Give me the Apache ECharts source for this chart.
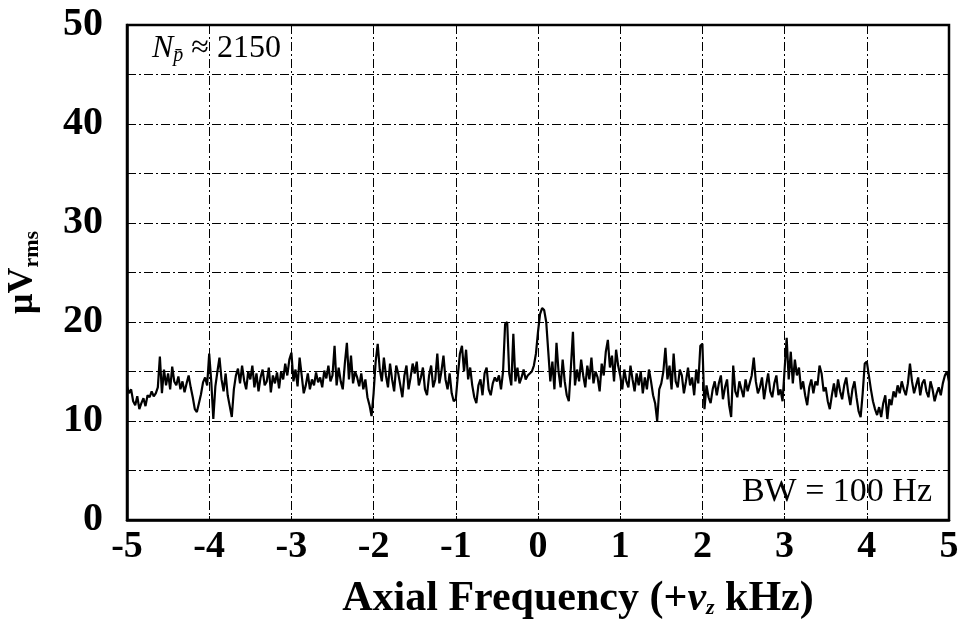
<!DOCTYPE html>
<html>
<head>
<meta charset="utf-8">
<script src="https://cdn.jsdelivr.net/npm/echarts@6/dist/echarts.min.js"></script>
<style>html,body{margin:0;padding:0;background:#fff}#c{width:962px;height:627px}</style>
</head>
<body>
<div id="c"></div>
<script>
// Axial frequency (kHz), sampled from -5 to 5 every 0.025 kHz
const freqStart = -5;
const freqStep = 0.025;
// Signal (μV rms), one value per sample
const signal = [
  // -5.0 .. -4.525
  13.5, 12.8, 13.2, 12.0, 11.6, 12.5, 11.2, 11.8, 12.3, 11.5, 12.6, 12.4, 13.0, 12.5, 12.8, 13.4, 16.5, 12.8, 15.2, 13.6,
  // -4.5 .. -4.025
  14.8, 13.2, 15.5, 14.0, 13.6, 14.5, 13.2, 14.0, 12.9, 13.8, 14.6, 13.4, 12.4, 11.2, 10.9, 11.8, 12.7, 13.9, 14.4, 13.6,
  // -4.0 .. -3.525
  16.8, 14.0, 10.2, 13.5, 15.0, 16.4, 14.2, 13.0, 14.8, 12.6, 11.5, 10.4, 13.2, 14.6, 15.3, 13.8, 15.6, 14.1, 13.2, 15.0,
  // -3.5 .. -3.025
  14.2, 15.6, 13.4, 14.8, 13.0, 14.4, 15.2, 13.6, 14.0, 15.4, 12.9, 14.6, 13.8, 14.9, 13.3, 15.0, 14.2, 15.8, 14.6, 16.2,
  // -3.0 .. -2.525
  16.9, 14.0, 15.2, 13.5, 16.4, 14.6, 12.8, 13.6, 14.8, 13.2, 14.2, 13.6, 14.9, 13.9, 14.4, 13.4, 15.1, 14.3, 15.6, 14.0,
  // -2.5 .. -2.025
  14.6, 17.6, 13.6, 15.4, 14.0, 13.2, 15.8, 17.9, 14.2, 16.6, 13.8, 15.0, 14.4, 13.5, 14.8, 13.2, 14.2, 12.4, 11.6, 10.5,
  // -2.0 .. -1.525
  12.8, 16.0, 17.8, 15.2, 14.0, 16.4, 14.6, 13.4, 15.8, 14.2, 13.0, 15.6, 14.8, 13.6, 12.4, 14.6, 15.6, 13.2, 14.4, 15.8,
  // -1.5 .. -1.025
  14.8, 16.0, 13.6, 14.4, 15.4, 13.2, 12.6, 14.6, 15.6, 13.4, 14.2, 16.8, 13.8, 15.0, 16.6, 14.2, 13.2, 14.8, 12.8, 12.0,
  // -1.0 .. -0.525
  12.2, 14.6, 16.8, 17.6, 15.0, 17.2, 14.2, 15.4, 13.6, 12.4, 11.8, 13.6, 14.2, 12.6, 14.8, 15.4, 13.2, 12.6, 13.8, 14.4,
  // -0.5 .. -0.025
  14.0, 14.6, 13.2, 15.0, 19.8, 20.0, 14.8, 13.6, 18.8, 14.0, 15.4, 13.8, 14.4, 15.2, 14.2, 14.6, 14.8, 15.0, 15.6, 16.8,
  // 0.0 .. 0.475
  19.0, 20.8, 21.4, 21.2, 20.0, 17.0, 14.0, 16.0, 13.2, 17.9, 15.0, 13.4, 16.2, 14.0, 12.6, 12.0, 15.4, 19.0, 13.6, 15.2,
  // 0.5 .. 0.975
  14.0, 16.2, 14.6, 13.4, 15.6, 14.2, 16.4, 13.8, 15.0, 14.4, 13.0, 15.8, 14.6, 17.0, 18.2, 15.4, 16.6, 14.0, 17.2, 15.6,
  // 1.0 .. 1.475
  14.6, 13.2, 15.2, 14.0, 13.4, 15.6, 14.2, 13.0, 14.8, 13.6, 15.0, 12.8, 14.4, 13.2, 15.2, 14.0, 12.6, 11.8, 10.0, 13.2,
  // 1.5 .. 1.975
  13.8, 15.0, 17.4, 14.2, 15.6, 13.2, 16.8, 14.0, 13.4, 15.2, 14.6, 12.8, 14.0, 15.4, 13.6, 14.4, 12.6, 15.2, 13.8, 17.6,
  // 2.0 .. 2.475
  17.8, 11.2, 13.6, 12.4, 11.8, 13.2, 14.0, 12.6, 13.8, 14.6, 12.2, 13.4, 14.2, 11.6, 10.4, 15.6, 13.0, 12.4, 14.0, 13.2,
  // 2.5 .. 2.975
  12.4, 14.2, 13.0, 13.8, 14.6, 16.4, 14.0, 12.8, 13.4, 14.4, 12.2, 13.6, 14.8, 13.0, 12.4, 13.8, 14.6, 12.6, 13.2, 12.0,
  // 3.0 .. 3.475
  15.2, 18.4, 14.2, 17.0, 13.8, 16.2, 14.6, 15.4, 13.2, 14.0, 12.6, 11.6, 13.4, 14.2, 12.8, 14.0, 13.6, 15.6, 14.8, 13.0,
  // 3.5 .. 3.975
  13.4, 12.0, 11.2, 12.6, 13.8, 12.4, 14.2, 13.0, 12.2, 13.6, 14.4, 12.8, 11.6, 13.2, 14.0, 12.4, 11.0, 10.4, 12.8, 15.8,
  // 4.0 .. 4.475
  16.0, 14.6, 13.2, 12.0, 11.2, 10.6, 11.4, 10.4, 11.8, 12.6, 10.2, 12.2, 11.6, 13.0, 12.4, 13.6, 12.8, 14.0, 13.2, 12.6,
  // 4.5 .. 5.0
  13.8, 15.8, 14.0, 12.8, 13.6, 14.4, 12.6, 13.8, 14.2, 13.0, 12.4, 14.0, 13.2, 12.0, 12.8, 13.4, 12.6, 13.8, 14.6, 15.0, 14.0
];
const xTicks = [-5, -4, -3, -2, -1, 0, 1, 2, 3, 4, 5];
const yTickLabels = [0, 10, 20, 30, 40, 50];

const points = signal.map((v, i) => [+(freqStart + i * freqStep).toFixed(3), v]);

const serif = '"Liberation Serif", "DejaVu Serif", serif';
const gridLine = { show: true, lineStyle: { color: '#000', width: 1, type: [9, 3, 2, 3] } };

const chart = echarts.init(document.getElementById('c'), null, { renderer: 'canvas' });
chart.setOption({
  backgroundColor: '#fff',
  animation: false,
  grid: { left: 127, right: 13, top: 25, bottom: 107, outerBoundsMode: 'none', containLabel: false, show: true, borderColor: '#000', borderWidth: 2.5, backgroundColor: 'transparent' },
  xAxis: {
    type: 'value', min: -5, max: 5, interval: 1,
    axisLine: { show: true, onZero: false, lineStyle: { color: '#000', width: 2.5 } },
    axisTick: { show: true, inside: true, length: 4, lineStyle: { color: '#000' } },
    splitLine: gridLine,
    axisLabel: {
      color: '#000', fontFamily: serif, fontWeight: 'bold', fontSize: 38, margin: 8,
      formatter: v => xTicks.includes(v) ? String(v) : ''
    },
    name: 'Axial Frequency (+{i|ν}{s|z} kHz)',
    nameLocation: 'middle', nameGap: 58,
    nameTextStyle: {
      color: '#000', fontFamily: serif, fontWeight: 'bold', fontSize: 42,
      padding: [0, 0, 0, 80],
      rich: {
        i: { fontFamily: serif, fontStyle: 'italic', fontSize: 42, color: '#000' },
        s: { fontFamily: serif, fontStyle: 'italic', fontSize: 22, color: '#000', padding: [18, 0, 0, 0] }
      }
    }
  },
  yAxis: {
    type: 'value', min: 0, max: 50, interval: 5,
    axisLine: { show: true, onZero: false, lineStyle: { color: '#000', width: 2.5 } },
    axisTick: { show: true, inside: true, length: 4, lineStyle: { color: '#000' } },
    splitLine: gridLine,
    axisLabel: {
      color: '#000', fontFamily: serif, fontWeight: 'bold', fontSize: 40, margin: 24,
      formatter: v => yTickLabels.includes(v) ? String(v) : ''
    },
    name: '{a|μV}{b|rms}',
    nameLocation: 'middle', nameGap: 84, nameRotate: 90,
    nameTextStyle: {
      color: '#000',
      rich: {
        a: { fontFamily: serif, fontWeight: 'bold', fontSize: 36, color: '#000' },
        b: { fontFamily: serif, fontWeight: 'bold', fontSize: 22, color: '#000', padding: [18, 0, 0, 0] }
      }
    }
  },
  series: [{
    type: 'line', data: points, showSymbol: false, symbol: 'none',
    lineStyle: { color: '#000', width: 2.2 }, z: 5
  }],
  graphic: [
    {
      type: 'text', left: 152, top: 32,
      style: {
        text: '{n|N}{p|p̄}{t| ≈ 2150}',
        rich: {
          n: { fontFamily: serif, fontStyle: 'italic', fontSize: 32, fill: '#000' },
          p: { fontFamily: serif, fontStyle: 'italic', fontSize: 20, fill: '#000', padding: [14, 0, 0, 0] },
          t: { fontFamily: serif, fontSize: 32, fill: '#000' }
        },
        backgroundColor: '#fff'
      }
    },
    {
      type: 'text', right: 30, top: 475,
      style: { text: 'BW = 100 Hz', fontFamily: serif, fontSize: 34, fill: '#000', backgroundColor: '#fff' }
    }
  ]
});
</script>
</body>
</html>
